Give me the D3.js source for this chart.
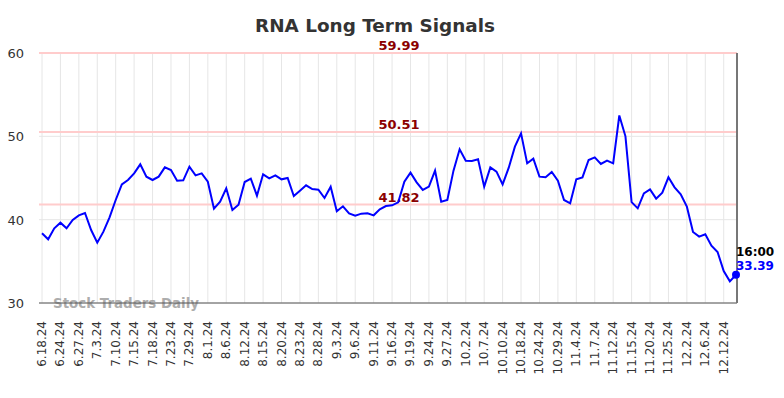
<!DOCTYPE html>
<html>
<head>
<meta charset="utf-8">
<script src="https://cdn.jsdelivr.net/npm/d3@7"></script>
<style>
body { margin: 0; background: #fff; }
text { font-family: "DejaVu Sans", sans-serif; }
</style>
</head>
<body>
<script>
// RNA long term signals -- price line with three signal levels

var tickLabels = ['6.18.24', '6.24.24', '6.27.24', '7.3.24', '7.10.24', '7.15.24', '7.18.24',
  '7.23.24', '7.29.24', '8.1.24', '8.6.24', '8.12.24', '8.15.24', '8.20.24', '8.23.24',
  '8.28.24', '9.3.24', '9.6.24', '9.11.24', '9.16.24', '9.19.24', '9.24.24', '9.27.24',
  '10.2.24', '10.7.24', '10.10.24', '10.18.24', '10.24.24', '10.29.24', '11.4.24',
  '11.7.24', '11.12.24', '11.15.24', '11.20.24', '11.25.24', '12.2.24', '12.6.24', '12.12.24'];

var prices = [
  38.36, 37.64, 38.96, 39.64, 38.96, 39.96, 40.52, 40.8, 38.76, 37.24,
  38.56, 40.28, 42.36, 44.24, 44.76, 45.56, 46.64, 45.16, 44.76, 45.16,
  46.28, 45.96, 44.68, 44.72, 46.36, 45.32, 45.56, 44.56, 41.32, 42.16,
  43.76, 41.16, 41.8, 44.52, 44.92, 42.88, 45.44, 44.96, 45.32, 44.84,
  45.0, 42.84, 43.48, 44.12, 43.68, 43.6, 42.6, 43.96, 41.0, 41.6,
  40.76, 40.48, 40.72, 40.76, 40.52, 41.24, 41.64, 41.72, 42.08, 44.56,
  45.64, 44.48, 43.56, 43.96, 45.88, 42.16, 42.36, 45.88, 48.44, 47.08,
  47.04, 47.24, 43.96, 46.28, 45.76, 44.24, 46.24, 48.76, 50.36, 46.76,
  47.32, 45.16, 45.08, 45.72, 44.68, 42.36, 41.96, 44.84, 45.08, 47.16,
  47.48, 46.68, 47.08, 46.76, 52.5, 50.0, 42.1, 41.36, 43.16, 43.64,
  42.52, 43.24, 45.08, 43.88, 43.04, 41.56, 38.52, 37.96, 38.24, 36.88,
  36.12, 33.84, 32.6, 33.39];

var levels = [59.99, 50.51, 41.82];
var yTicks = [30, 40, 50, 60];
var TICK_STEP = 3; // one label every 3 points

var WIDTH = 784;
var HEIGHT = 398;

var svg = d3.select('body')
.append('svg')
.attr('width', WIDTH)
.attr('height', HEIGHT);

var x = d3.scaleLinear().domain([0, prices.length - 1]).range([42, 736]);
var y = d3.scaleLinear().domain([30, 60]).range([303, 53]);
var left = 39, right = 737;

// title
svg.append('text')
.attr('x', 375).attr('y', 32)
.attr('text-anchor', 'middle')
.attr('font-size', 18.4).attr('font-weight', 'bold')
.attr('fill', '#333')
.text('RNA Long Term Signals');

// grid
svg.selectAll('.hgrid')
.data(yTicks)
.enter()
.append('line')
.attr('x1', left).attr('x2', right)
.attr('y1', function(d){return y(d);})
.attr('y2', function(d){return y(d);})
.attr('stroke', '#e6e6e6');

svg.selectAll('.vgrid')
.data(tickLabels)
.enter()
.append('line')
.attr('x1', function(d, i){return x(i * TICK_STEP);})
.attr('x2', function(d, i){return x(i * TICK_STEP);})
.attr('y1', 53).attr('y2', 303)
.attr('stroke', '#e6e6e6');

// y labels
svg.selectAll('.ylab')
.data(yTicks)
.enter()
.append('text')
.attr('x', 24)
.attr('y', function(d){return y(d) + 5;})
.attr('text-anchor', 'end')
.attr('font-size', 13)
.attr('fill', '#333')
.text(function(d){return d;});

// x labels
svg.selectAll('.xlab')
.data(tickLabels)
.enter()
.append('text')
.attr('transform', function(d, i){return 'translate(' + (x(i * TICK_STEP) + 4) + ',321) rotate(-90)';})
.attr('text-anchor', 'end')
.attr('font-size', 12)
.attr('fill', '#333')
.text(function(d){return d;});

// signal levels
svg.selectAll('.level')
.data(levels)
.enter()
.append('line')
.attr('x1', left).attr('x2', right)
.attr('y1', function(d){return y(d);})
.attr('y2', function(d){return y(d);})
.attr('stroke', '#ffcccc')
.attr('stroke-width', 2);

svg.selectAll('.levlab')
.data(levels)
.enter()
.append('text')
.attr('x', 399)
.attr('y', function(d){return y(d) - 3;})
.attr('text-anchor', 'middle')
.attr('font-size', 13).attr('font-weight', 'bold')
.attr('fill', '#8b0000')
.text(function(d){return d.toFixed(2);});

// watermark
svg.append('text')
.attr('x', 53).attr('y', 308)
.attr('font-size', 13.4).attr('font-weight', 'bold')
.attr('fill', '#999')
.attr('opacity', 0.8)
.text('Stock Traders Daily');

// axes frame
svg.append('line')
.attr('x1', left).attr('x2', right)
.attr('y1', 303).attr('y2', 303)
.attr('stroke', '#555');
svg.append('line')
.attr('x1', right).attr('x2', right)
.attr('y1', 53).attr('y2', 303)
.attr('stroke', '#777').attr('stroke-width', 2);

// price line
var line = d3.line()
.x(function(d, i){return x(i);})
.y(function(d){return y(d);});

svg.append('path')
.datum(prices)
.attr('d', line)
.attr('fill', 'none')
.attr('stroke', '#0000ff')
.attr('stroke-width', 2);

var last = prices.length - 1;
svg.append('circle')
.attr('cx', x(last)).attr('cy', y(prices[last]))
.attr('r', 4)
.attr('fill', '#0000ff');

svg.append('text')
.attr('x', x(last)).attr('y', 256)
.attr('font-size', 12).attr('font-weight', 'bold')
.attr('fill', '#000')
.text('16:00');
svg.append('text')
.attr('x', x(last)).attr('y', 270)
.attr('font-size', 12).attr('font-weight', 'bold')
.attr('fill', '#0000ff')
.text(prices[last].toFixed(2));
</script>
</body>
</html>
